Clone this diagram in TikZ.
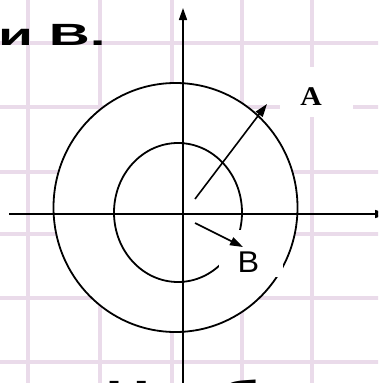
\documentclass[tikz,border=0pt]{standalone}
\usepackage{graphicx}
\usepackage{fontspec}
\setmainfont{Liberation Sans}
\newfontfamily\serifA{Liberation Serif}
\usetikzlibrary{arrows.meta,shapes.geometric}
\definecolor{gridc}{RGB}{234,219,234}
\begin{document}
\begin{tikzpicture}[x=1pt,y=-1pt,
  gridline/.style={draw=gridc,line width=3.5pt},
  ring/.style={draw=black,line width=1.8pt,ellipse,inner sep=0pt},
  axis/.style={draw=black,line width=1.6pt,-{Triangle[length=12pt,width=8pt]}},
  vec/.style={draw=black,line width=1.6pt,-{Triangle[length=13pt,width=8.5pt]}},
  whitebox/.style={fill=white,draw=none,inner sep=0pt},
  bigtext/.style={inner sep=0pt,anchor=base west,font=\bfseries\fontsize{30.7}{32}\selectfont}]
\useasboundingbox (0,0) rectangle (378,383);
\clip (0,0) rectangle (378,383);
\fill[white] (0,0) rectangle (378,383);
% grid
\foreach \x in {28,100,172,242,312} \draw[gridline] (\x,-5) -- (\x,390);
\foreach \y in {43,107,172,234,298,362} \draw[gridline] (-5,\y) -- (385,\y);
% texts cut off by the frame
\node[bigtext] (title) at (-2,45) {\scalebox{1.85}[1]{и В.}};
\node[bigtext] (bottom) at (105.5,402) {\scalebox{2}[1]{Наиб}};
% label A
\node[whitebox,minimum width=73pt,minimum height=50pt] (Abox) at (316.5,92) {};
\node[inner sep=0pt,font=\serifA\bfseries\fontsize{27}{27}\selectfont] (A) at (311,97) {\scalebox{1.1}[1]{A}};
% outer circle
\node[ring,fill=white,minimum width=244pt,minimum height=249pt] (outer) at (175.5,207.5) {};
% axes
\coordinate (yb) at (183,392);
\coordinate (yt) at (183,8);
\coordinate (xl) at (9,214);
\coordinate (xr) at (387,214);
\draw[axis] (yb) -- (yt);
\draw[axis] (xl) -- (xr);
% inner circle
\node[ring,minimum width=128pt,minimum height=139pt] (inner) at (178,212.5) {};
% white box behind B (cuts both circles)
\node[whitebox,minimum width=64pt,minimum height=47pt] (Bbox) at (251,253.5) {};
\node[inner sep=0pt,font=\fontsize{30}{30}\selectfont] (B) at (248.5,262) {\scalebox{1.08}[1]{B}};
% vectors
\coordinate (a0) at (195,199);
\coordinate (a1) at (267,104);
\coordinate (b0) at (195,223);
\coordinate (b1) at (243,247);
\draw[vec] (a0) -- (a1);
\draw[vec] (b0) -- (b1);
\end{tikzpicture}
\end{document}
